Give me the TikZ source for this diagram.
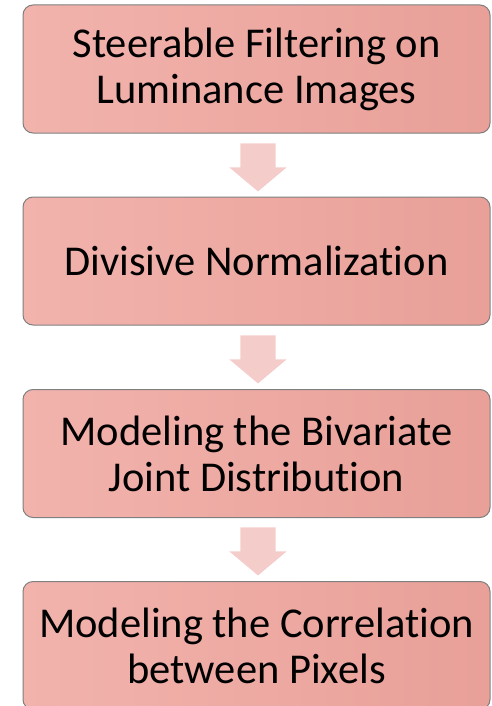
\documentclass[tikz,border=0pt]{standalone}
\usepackage{fontspec}
\setmainfont[Ligatures=NoCommon]{Carlito}
\usetikzlibrary{shapes.arrows}

\definecolor{boxleft}{HTML}{F2B3AD}
\definecolor{boxright}{HTML}{E8A098}
\definecolor{boxline}{HTML}{7F7F7F}
\definecolor{arrowfill}{HTML}{F4CDCA}

\tikzset{
  stage/.style={draw=boxline, line width=1pt, rounded corners=10pt,
    left color=boxleft, right color=boxright,
    minimum width=467pt, minimum height=128pt, inner sep=0pt,
    align=center, font=\fontsize{42.5}{46}\selectfont},
  flow/.style={single arrow, draw=none, fill=arrowfill,
    text height=35pt, text depth=0pt, text width=0pt, inner sep=0pt,
    minimum height=48pt,
    single arrow head extend=11pt, single arrow tip angle=100,
    rotate=-90}
}

\begin{document}
\begin{tikzpicture}[x=1pt, y=-1pt]
\clip (0,0) rectangle (492,706);

% Define nodes
\node[stage] (filter) at (256.5, 69) {Steerable Filtering on\\Luminance Images};
\node[stage] (norm) at (256.5, 261) {Divisive Normalization};
\node[stage] (joint) at (256.5, 453.5) {Modeling the Bivariate\\Joint Distribution};
\node[stage] (corr) at (256.5, 645.5) {Modeling the Correlation\\between Pixels};

% Arrows between stages
\node[flow] (a1) at (258, 160) {};
\node[flow] (a2) at (258, 352) {};
\node[flow] (a3) at (258, 544) {};
\end{tikzpicture}
\end{document}
